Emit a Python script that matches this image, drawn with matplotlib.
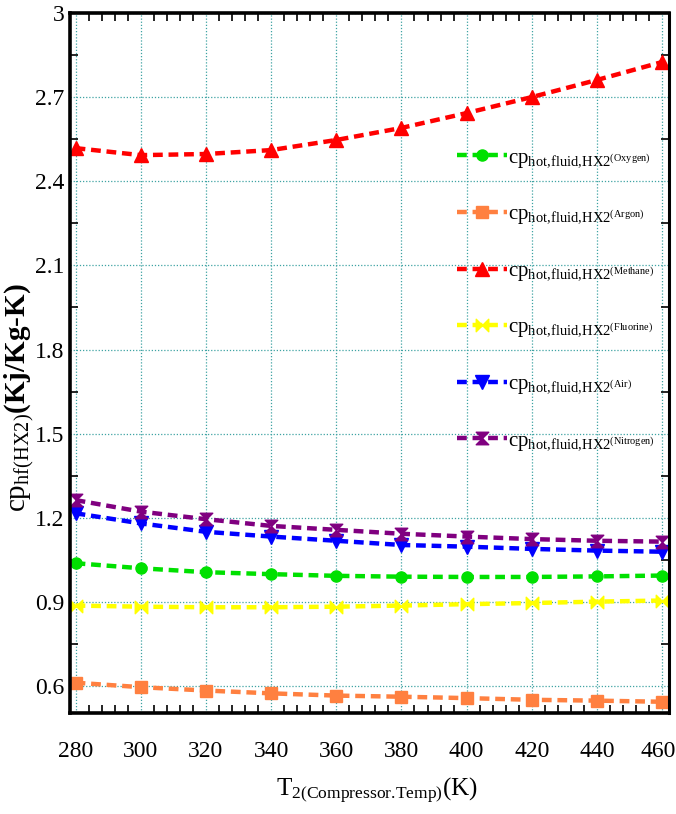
import numpy as np
import matplotlib
matplotlib.use("Agg")
import matplotlib.pyplot as plt
import matplotlib.transforms as mtransforms
from matplotlib.path import Path
from matplotlib.ticker import MultipleLocator

plt.rcParams["font.family"] = ["Liberation Serif", "DejaVu Serif"]
plt.rcParams["mathtext.fontset"] = "custom"
plt.rcParams["mathtext.rm"] = "Liberation Serif"
plt.rcParams["mathtext.it"] = "Liberation Serif:italic"
plt.rcParams["mathtext.bf"] = "Liberation Serif:bold"

# Compressor outlet temperature (K)
temps = [280, 300, 320, 340, 360, 380, 400, 420, 440, 460]

# Hot-fluid specific heat in HX2 (kJ/kg-K)
cp_oxygen = [1.038, 1.020, 1.006, 0.999, 0.993, 0.990, 0.989, 0.989, 0.991, 0.994]
cp_argon = [0.612, 0.596, 0.584, 0.574, 0.566, 0.562, 0.557, 0.551, 0.548, 0.544]
cp_methane = [2.518, 2.493, 2.497, 2.511, 2.547, 2.590, 2.643, 2.700, 2.761, 2.825]
cp_fluorine = [0.887, 0.883, 0.881, 0.881, 0.883, 0.887, 0.892, 0.896, 0.901, 0.905]
cp_air = [1.216, 1.180, 1.150, 1.133, 1.118, 1.103, 1.097, 1.089, 1.083, 1.079]
cp_nitrogen = [1.263, 1.222, 1.195, 1.171, 1.157, 1.143, 1.133, 1.124, 1.118, 1.115]

fluids = ["Oxygen", "Argon", "Methane", "Fluorine", "Air", "Nitrogen"]
x_ticks = [280, 300, 320, 340, 360, 380, 400, 420, 440, 460]
y_ticks = [0.6, 0.9, 1.2, 1.5, 1.8, 2.1, 2.4, 2.7, 3.0]
y_tick_labels = ["0.6", "0.9", "1.2", "1.5", "1.8", "2.1", "2.4", "2.7", "3"]

# hourglass and bow-tie marker shapes
hourglass = Path([(-1, 1), (1, 1), (0, 0), (1, -1), (-1, -1), (0, 0), (-1, 1)],
                 [Path.MOVETO, Path.LINETO, Path.LINETO, Path.LINETO,
                  Path.LINETO, Path.LINETO, Path.CLOSEPOLY])
bowtie = Path([(-1, 1), (0, 0), (-1, -1), (-1, 1), (1, 1), (0, 0), (1, -1), (1, 1)],
              [Path.MOVETO, Path.LINETO, Path.LINETO, Path.CLOSEPOLY,
               Path.MOVETO, Path.LINETO, Path.LINETO, Path.CLOSEPOLY])

series = [
    (cp_oxygen, "#00e000", "o", 8),
    (cp_argon, "#ff8040", "s", 9),
    (cp_methane, "#ff0000", "^", 10),
    (cp_fluorine, "#ffff00", bowtie, 9),
    (cp_air, "#0000ff", "v", 10),
    (cp_nitrogen, "#800080", hourglass, 9),
]

fig = plt.figure(figsize=(6.76, 8.14), dpi=100)
ax = fig.add_axes([0.1036, 0.1241, 0.886, 0.86])

for (vals, color, marker, ms), name in zip(series, fluids):
    label = (r"$\mathrm{cp}_{\text{hot,fluid,HX2}^{\text{(" + name + r")}}}$")
    ax.plot(temps, vals, color=color, lw=3.2, ls=(0, (2.2, 1.3)),
            marker=marker, ms=ms, mec=color, mfc=color, label=label)

ax.set_xlim(278.3, 462.1)
ax.set_ylim(0.504, 3.0)
ax.set_xticks(x_ticks)
ax.set_yticks(y_ticks)
ax.set_yticklabels(y_tick_labels)
ax.xaxis.set_minor_locator(MultipleLocator(4))
ax.yaxis.set_minor_locator(MultipleLocator(0.15))
ax.tick_params(which="both", direction="in", top=True, right=True,
               labelsize=17, width=1.2)
ax.tick_params(which="major", length=0)
ax.tick_params(axis="x", which="major", pad=20)
ax.tick_params(axis="y", which="major", pad=4)
ax.tick_params(which="minor", length=6)

# keep the last x tick label inside the figure edge
last = ax.get_xticklabels()[-1]
last.set_transform(last.get_transform() +
                   mtransforms.ScaledTranslation(-4 / 100, 0, fig.dpi_scale_trans))

ax.grid(True, which="major", color="#3fa3a3", ls=(0, (1, 1.5)), lw=0.9)

for side in ["left", "bottom", "top"]:
    ax.spines[side].set_linewidth(2.6)
ax.spines["right"].set_linewidth(2.2)

ax.set_xlabel(r"$\mathrm{T}_{\text{2(Compressor.Temp)}}\mathrm{(K)}$",
              fontsize=18)
ax.xaxis.set_label_coords(0.513, -0.09)
ax.set_ylabel(r"$\mathrm{cp}_{\text{hf(HX2)}}\mathbf{(Kj/Kg\text{-}K)}$",
              fontsize=21)
ax.yaxis.set_label_coords(-0.056, 0.45)

leg = ax.legend(loc="upper left", bbox_to_anchor=(0.646, 0.807), frameon=False,
                fontsize=15, labelspacing=1.68, handlelength=2.4,
                handletextpad=0.05, borderaxespad=0, borderpad=0)

fig.savefig("out.png", dpi=100)
